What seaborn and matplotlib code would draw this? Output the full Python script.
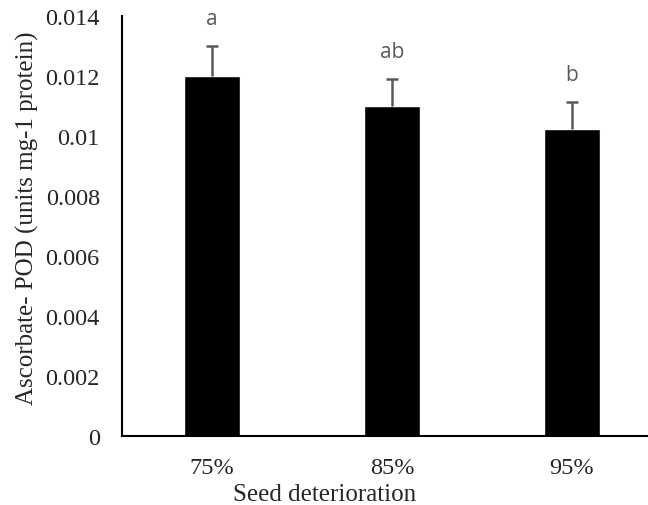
import matplotlib
matplotlib.use("Agg")
import matplotlib.pyplot as plt
import seaborn as sns
import pandas as pd

categories = ["75%", "85%", "95%"]
means = [0.0120, 0.0110, 0.01023]
errors = [0.0010, 0.0009, 0.00089]
letters = ["a", "ab", "b"]
ytick_values = [0, 0.002, 0.004, 0.006, 0.008, 0.010, 0.012, 0.014]
ytick_labels = ["0", "0.002", "0.004", "0.006", "0.008", "0.01", "0.012", "0.014"]

sns.set_theme(style="white")
plt.rcParams["font.family"] = ["Liberation Serif", "DejaVu Serif"]

df = pd.DataFrame({"cat": categories, "val": means})

fig = plt.figure(figsize=(6.48, 5.06), dpi=100)
ax = fig.add_axes([122 / 648, 69 / 506, 540 / 648, 420 / 506])

sns.barplot(data=df, x="cat", y="val", color="black", saturation=1,
            width=0.31, ax=ax, errorbar=None)

eb = ax.errorbar(range(len(categories)), means, yerr=[[0] * len(errors), errors],
                 fmt="none", ecolor="#595959", elinewidth=1.8, capsize=4,
                 capthick=1.8, zorder=1)
# keep only the upper caps
eb[1][0].set_visible(False)

for i, (m, e, t) in enumerate(zip(means, errors, letters)):
    ax.annotate(t, xy=(i, m + e), xytext=(0, 20), textcoords="offset points",
                ha="center", va="center", color="#595959", fontsize=15,
                family=["Open Sans", "DejaVu Sans"])

ax.set_xlim(-0.5, 2.5)
ax.set_ylim(0, 0.014)
ax.set_yticks(ytick_values)
ax.set_yticklabels(ytick_labels)
ax.tick_params(axis="y", length=0, pad=16, labelsize=17.5, colors="#262626")
ax.tick_params(axis="x", length=0, pad=15, labelsize=17.5, colors="#262626")

ax.set_xlabel("Seed deterioration", fontsize=18, color="#262626", va="center")
ax.xaxis.set_label_coords(0.376, -0.137)
ax.set_ylabel("Ascorbate- POD (units mg-1 protein)", fontsize=18,
              color="#262626", va="center")
ax.yaxis.set_label_coords(-0.175, 0.521)

for s in ["top", "right"]:
    ax.spines[s].set_visible(False)
for s in ["left", "bottom"]:
    ax.spines[s].set_color("black")
    ax.spines[s].set_linewidth(1.5)
ax.grid(False)

fig.savefig("out.png", dpi=100)
